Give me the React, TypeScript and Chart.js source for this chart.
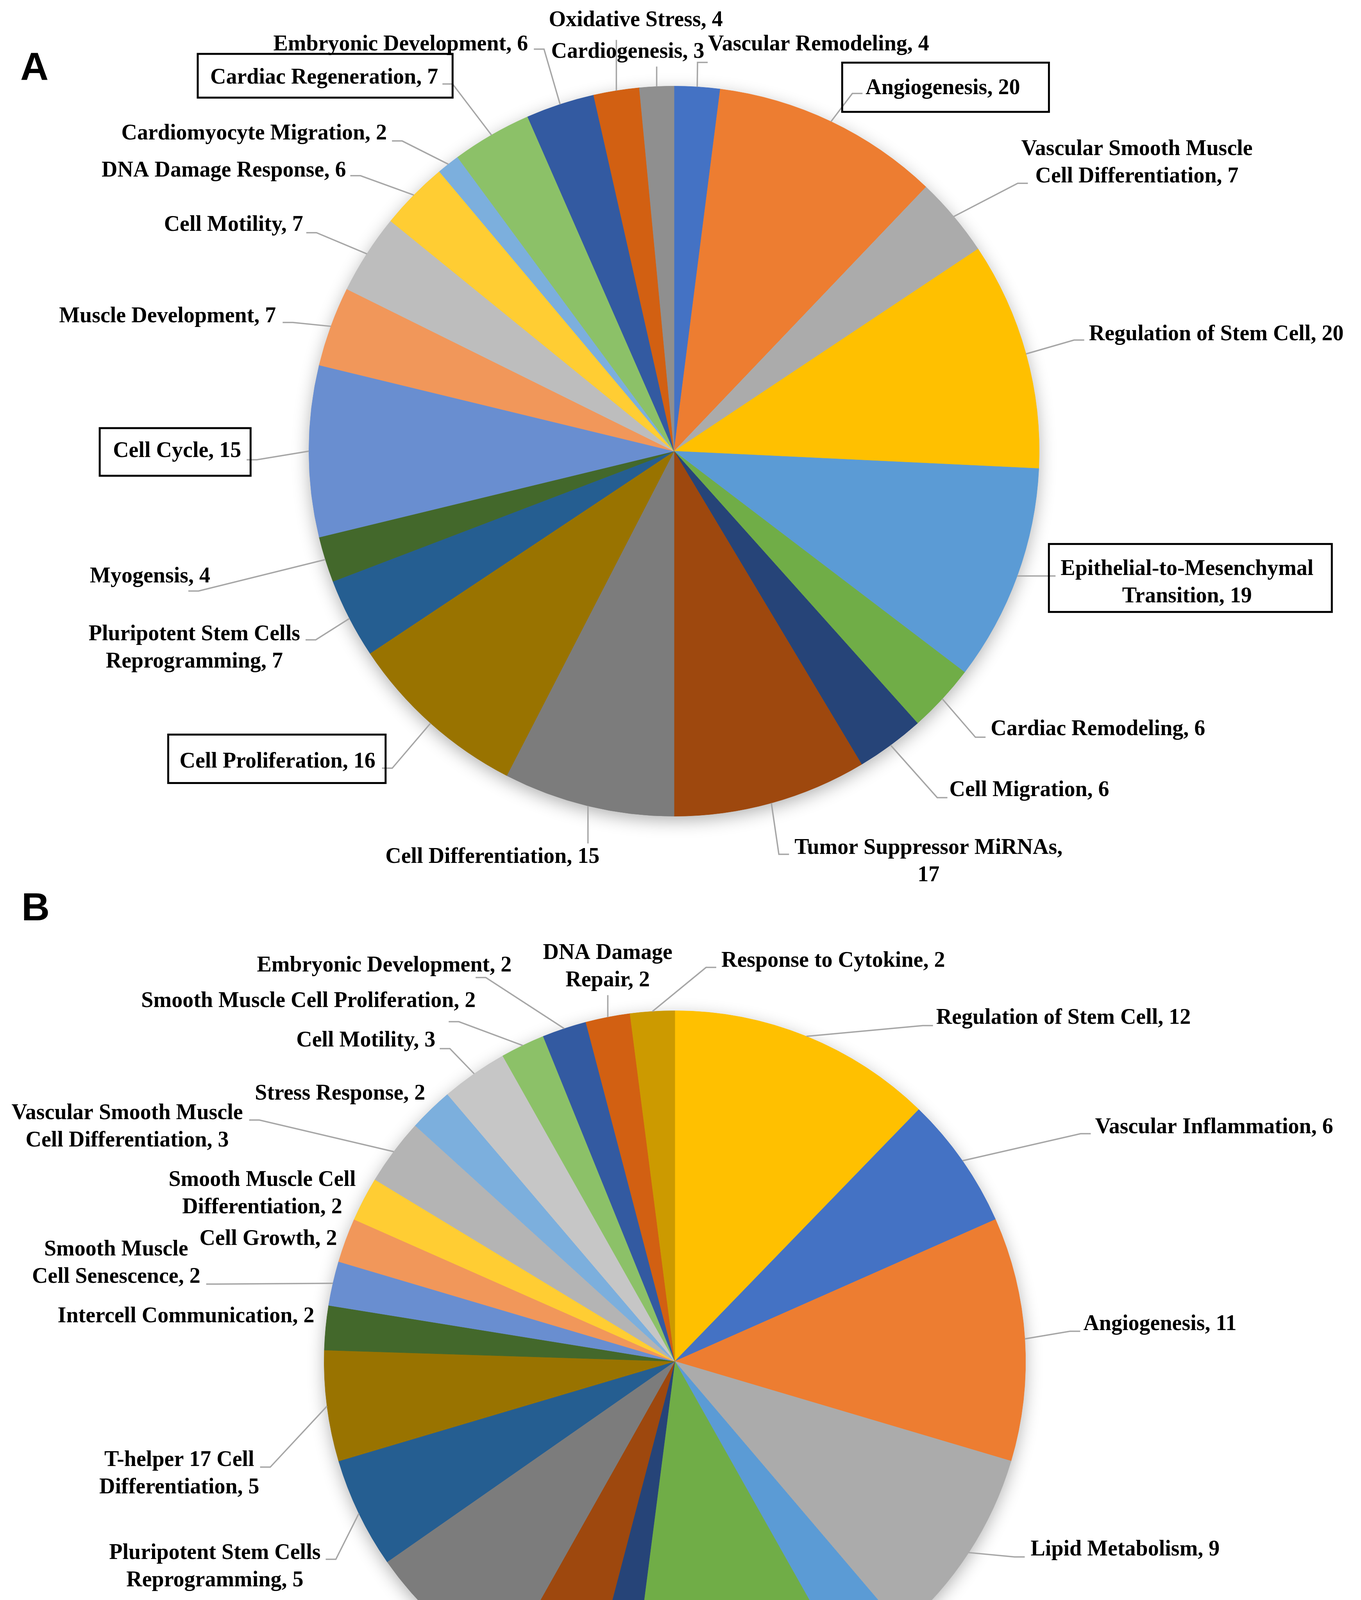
import React, { useEffect, useRef } from "react";
import { Chart, registerables } from "chart.js";

Chart.register(...registerables);

// ---------------- DATA ----------------
const categoriesA = [
  "Vascular Remodeling",
  "Angiogenesis",
  "Vascular Smooth Muscle Cell Differentiation",
  "Regulation of Stem Cell",
  "Epithelial-to-Mesenchymal Transition",
  "Cardiac Remodeling",
  "Cell Migration",
  "Tumor Suppressor MiRNAs",
  "Cell Differentiation",
  "Cell Proliferation",
  "Pluripotent Stem Cells Reprogramming",
  "Myogensis",
  "Cell Cycle",
  "Muscle Development",
  "Cell Motility",
  "DNA Damage Response",
  "Cardiomyocyte Migration",
  "Cardiac Regeneration",
  "Embryonic Development",
  "Oxidative Stress",
  "Cardiogenesis",
];
const valuesA = [4, 20, 7, 20, 19, 6, 6, 17, 15, 16, 7, 4, 15, 7, 7, 6, 2, 7, 6, 4, 3];
const colorsA = [
  "#4472C4", "#ED7D31", "#ABABAB", "#FFC000", "#5B9BD5", "#70AD47", "#264478",
  "#9E480E", "#7C7C7C", "#997300", "#255E91", "#43682B", "#698ED0", "#F1975A",
  "#BDBDBD", "#FFCD33", "#7CAFDD", "#8CC168", "#335AA1", "#D26012", "#8F8F8F",
];

const categoriesB = [
  "Regulation of Stem Cell",
  "Vascular Inflammation",
  "Angiogenesis",
  "Lipid Metabolism",
  "Blood-Tumor Barrier Permeability",
  "Immune Response",
  "Neural Stem Cell Proliferation",
  "Vascular Homeostasis",
  "Adipocyte Differentiation",
  "Pluripotent Stem Cells Reprogramming",
  "T-helper 17 Cell Differentiation",
  "Intercell Communication",
  "Smooth Muscle Cell Senescence",
  "Cell Growth",
  "Smooth Muscle Cell Differentiation",
  "Vascular Smooth Muscle Cell Differentiation",
  "Stress Response",
  "Cell Motility",
  "Smooth Muscle Cell Proliferation",
  "Embryonic Development",
  "DNA Damage Repair",
  "Response to Cytokine",
];
const valuesB = [12, 6, 11, 9, 3, 10, 2, 4, 7, 5, 5, 2, 2, 2, 2, 3, 2, 3, 2, 2, 2, 2];
const colorsB = [
  "#FFC000", "#4472C4", "#ED7D31", "#ABABAB", "#5B9BD5", "#70AD47", "#264478",
  "#9E480E", "#7C7C7C", "#255E91", "#997300", "#43682B", "#698ED0", "#F1975A",
  "#FFCD33", "#B4B4B4", "#7CAFDD", "#C6C6C6", "#8CC168", "#335AA1", "#D26012",
  "#CC9A00",
];

// ---------------- LABEL LAYOUT (offsets from pie centre, reference px) ----------------
// x: anchor x offset, y: centre y offset, a: text anchor, s: leader side, dx/dy: attach tweak,
// br: words on first line, box: [padL, padR, padT, padB]
type Lay = { x: number; y: number; a: "left" | "right" | "center"; s?: "L" | "R" | "T" | "B"; dx?: number; dy?: number; br?: number; box?: number[] };

const labelLayoutA: Lay[] = [
  { x: 89, y: -1063, a: "left", s: "L", dx: -1, dy: 45 },
  { x: 501, y: -949, a: "left", s: "L", dx: -8, dy: 13, box: [60, 74, 31, 25] },
  { x: 908, y: -754, a: "left", s: "L", dx: 17, dy: 52, br: 3 },
  { x: 1085, y: -305, a: "left", s: "L", dx: -12, dy: 14 },
  { x: 1011, y: 345, a: "left", s: "L", dx: -13, dy: -18, br: 1, box: [30, 47, 30, 4] },
  { x: 828, y: 728, a: "left", s: "L", dx: -13, dy: 20 },
  { x: 720, y: 888, a: "left", s: "L", dx: -5, dy: 18 },
  { x: 315, y: 1075, a: "left", s: "L", dx: -14, dy: -20, br: 3 },
  { x: -475, y: 1062, a: "center", s: "T", dy: 0 },
  { x: -781, y: 813, a: "right", s: "R", dx: 17, dy: 16, box: [29, 26, 35, 19] },
  { x: -978, y: 516, a: "right", s: "R", dx: 14, dy: -22, br: 3 },
  { x: -1213, y: 329, a: "right", s: "R", dx: -56, dy: 36 },
  { x: -1132, y: 1, a: "right", s: "R", dx: 14, dy: 21, box: [34, 24, 25, 27] },
  { x: -1041, y: -352, a: "right", s: "R", dx: 17, dy: 15 },
  { x: -970, y: -591, a: "right", s: "R", dx: 8, dy: 19 },
  { x: -858, y: -733, a: "right", s: "R", dx: 11, dy: 12 },
  { x: -751, y: -830, a: "right", s: "R", dx: 13, dy: 18 },
  { x: -617, y: -976, a: "right", s: "R", dx: 11, dy: 15, box: [32, 37, 27, 15] },
  { x: -382, y: -1063, a: "right", s: "R", dx: 15, dy: 11 },
  { x: -100, y: -1127, a: "center", s: "B", dy: 15 },
  { x: -121, y: -1044, a: "center", s: "B", dy: 2 },
];

const labelLayoutB: Lay[] = [
  { x: 669, y: -879, a: "left", s: "L", dx: -8, dy: 19 },
  { x: 1076, y: -599, a: "left", s: "L", dx: -11, dy: 16 },
  { x: 1046, y: -95, a: "left", s: "L", dx: -8, dy: 18 },
  { x: 911, y: 483, a: "left", s: "L", dx: -15, dy: 18 },
  { x: 593, y: 860, a: "left", s: "L", dx: -13, dy: -18, br: 2 },
  { x: 363, y: 970, a: "center", s: "T", dy: 1 },
  { x: -176, y: 983, a: "center", br: 3 },
  { x: -506, y: 937, a: "right", s: "R", dx: 9, dy: 16 },
  { x: -577, y: 733, a: "right" },
  { x: -907, y: 527, a: "right", s: "R", dx: 13, dy: -20, br: 3 },
  { x: -1064, y: 289, a: "right", s: "R", dx: 2, dy: -18, br: 3 },
  { x: -923, y: -115, a: "right" },
  { x: -1215, y: -251, a: "right", s: "R", dx: 15, dy: 53, br: 2 },
  { x: -865, y: -313, a: "right" },
  { x: -817, y: -429, a: "right", br: 3 },
  { x: -1106, y: -600, a: "right", s: "R", dx: 16, dy: -18, br: 3 },
  { x: -639, y: -685, a: "right" },
  { x: -613, y: -821, a: "right", s: "R", dx: 11, dy: 20 },
  { x: -510, y: -922, a: "right", s: "R", dx: -69, dy: 52 },
  { x: -418, y: -1013, a: "right", s: "R", dx: -92, dy: 30 },
  { x: -172, y: -1010, a: "center", s: "B", dy: 2, br: 2 },
  { x: 119, y: -1025, a: "left", s: "L", dx: -13, dy: 16 },
];

const LABEL_FONT = 'bold 56px "Liberation Serif", "Times New Roman", serif';
const LINE_H = 70;
const TAIL = 26;

const pieLabelPlugin = {
  id: "pieLabels",
  beforeDatasetsDraw(chart: any, _args: any, opts: any) {
    const arc = chart.getDatasetMeta(0).data[0];
    if (!arc) return;
    const p = arc.getProps(["x", "y", "outerRadius"], true);
    const ctx = chart.ctx;
    ctx.save();
    ctx.shadowColor = "rgba(0,0,0,0.32)";
    ctx.shadowBlur = 45;
    ctx.shadowOffsetY = 12;
    ctx.beginPath();
    ctx.arc(p.x, p.y, p.outerRadius - 2, 0, Math.PI * 2);
    ctx.fillStyle = "#ffffff";
    ctx.fill();
    ctx.restore();
  },
  afterDatasetsDraw(chart: any, _args: any, opts: any) {
    const ctx = chart.ctx as CanvasRenderingContext2D;
    const meta = chart.getDatasetMeta(0);
    const vals = chart.data.datasets[0].data as number[];
    const names = chart.data.labels as string[];
    const layout: Lay[] = opts.layout;
    ctx.save();
    ctx.font = LABEL_FONT;
    const items: any[] = [];
    meta.data.forEach((el: any, i: number) => {
      const p = el.getProps(["x", "y", "startAngle", "endAngle", "outerRadius"], true);
      const L = layout[i];
      if (!L) return;
      const s = p.outerRadius / opts.refR;
      const mid = (p.startAngle + p.endAngle) / 2;
      const px = p.x + Math.cos(mid) * p.outerRadius;
      const py = p.y + Math.sin(mid) * p.outerRadius;
      const words = `${names[i]}, ${vals[i]}`.split(" ");
      const lines = L.br ? [words.slice(0, L.br).join(" "), words.slice(L.br).join(" ")] : [words.join(" ")];
      const bw = Math.max(...lines.map((t) => ctx.measureText(t).width));
      const bh = lines.length * LINE_H;
      const ax = p.x + L.x * s;
      const cy = p.y + L.y * s;
      const left = L.a === "left" ? ax : L.a === "right" ? ax - bw : ax - bw / 2;
      const right = left + bw;
      let path: number[][] | null = null;
      if (L.s === "L") {
        const tx = left + (L.dx || 0);
        const ty = cy + (L.dy || 0);
        path = [[px, py], [tx - TAIL, ty], [tx, ty]];
      } else if (L.s === "R") {
        const tx = right + (L.dx || 0);
        const ty = cy + (L.dy || 0);
        path = [[px, py], [tx + TAIL, ty], [tx, ty]];
      } else if (L.s === "T") {
        path = [[px, py], [px, cy - bh / 2 + (L.dy || 0)]];
      } else if (L.s === "B") {
        path = [[px, py], [px, cy + bh / 2 + (L.dy || 0)]];
      }
      items.push({ lines, bw, bh, left, right, cy, path, box: L.box });
    });
    // leader lines
    ctx.strokeStyle = "#A6A6A6";
    ctx.lineWidth = 3.5;
    ctx.lineJoin = "miter";
    items.forEach((it) => {
      if (!it.path) return;
      ctx.beginPath();
      ctx.moveTo(it.path[0][0], it.path[0][1]);
      for (let k = 1; k < it.path.length; k++) ctx.lineTo(it.path[k][0], it.path[k][1]);
      ctx.stroke();
    });
    // boxes
    items.forEach((it) => {
      if (!it.box) return;
      const [pl, pr, pt, pb] = it.box;
      ctx.fillStyle = "rgba(255,255,255,0)";
      ctx.strokeStyle = "#000000";
      ctx.lineWidth = 5;
      const top = it.cy - it.bh / 2 - pt;
      const bot = it.cy + it.bh / 2 + pb;
      ctx.strokeRect(it.left - pl, top, it.bw + pl + pr, bot - top);
    });
    // text
    ctx.fillStyle = "#000000";
    ctx.textAlign = "center";
    ctx.textBaseline = "middle";
    items.forEach((it) => {
      it.lines.forEach((t: string, k: number) => {
        const y = it.cy - it.bh / 2 + LINE_H / 2 + k * LINE_H;
        ctx.fillText(t, (it.left + it.right) / 2, y);
      });
    });
    // panel letter
    if (opts.letter) {
      ctx.font = 'bold 100px "Liberation Sans", Arial, sans-serif';
      ctx.textAlign = "left";
      ctx.textBaseline = "alphabetic";
      ctx.fillText(opts.letter, opts.letterX, opts.letterY);
    }
    ctx.restore();
  },
};

type PieProps = {
  names: string[];
  values: number[];
  colors: string[];
  layout: Lay[];
  top: number;
  height: number;
  padding: { left: number; right: number; top: number; bottom: number };
  refR: number;
  letter: string;
  letterX: number;
  letterY: number;
};

function PiePanel(props: PieProps) {
  const ref = useRef<HTMLCanvasElement>(null);
  useEffect(() => {
    if (!ref.current) return;
    const chart = new Chart(ref.current, {
      type: "pie",
      data: {
        labels: props.names,
        datasets: [
          {
            data: props.values,
            backgroundColor: props.colors,
            borderColor: props.colors,
            borderWidth: 1,
          },
        ],
      },
      options: {
        responsive: false,
        animation: false,
        devicePixelRatio: 1,
        events: [],
        layout: { padding: props.padding },
        plugins: {
          legend: { display: false },
          tooltip: { enabled: false },
          // @ts-ignore
          pieLabels: {
            layout: props.layout,
            refR: props.refR,
            letter: props.letter,
            letterX: props.letterX,
            letterY: props.letterY,
          },
        },
      } as any,
      plugins: [pieLabelPlugin as any],
    });
    return () => chart.destroy();
  }, []);
  return (
    <canvas
      ref={ref}
      width={3483}
      height={props.height}
      style={{ position: "absolute", left: 0, top: props.top, width: 3483, height: props.height }}
    />
  );
}

export default function App() {
  return (
    <div
      style={{
        position: "absolute",
        left: 0,
        top: 0,
        width: 3483,
        height: 4559,
        background: "#ffffff",
        overflow: "hidden",
      }}
    >
      <PiePanel
        names={categoriesA}
        values={valuesA}
        colors={colorsA}
        layout={labelLayoutA}
        top={0}
        height={2340}
        padding={{ left: 770, right: 803, top: 220, bottom: 250 }}
        refR={955}
        letter="A"
        letterX={52}
        letterY={205}
      />
      <PiePanel
        names={categoriesB}
        values={valuesB}
        colors={colorsB}
        layout={labelLayoutB}
        top={2260}
        height={2299}
        padding={{ left: 829, right: 858, top: 327, bottom: 176 }}
        refR={898}
        letter="B"
        letterX={55}
        letterY={96}
      />
    </div>
  );
}
